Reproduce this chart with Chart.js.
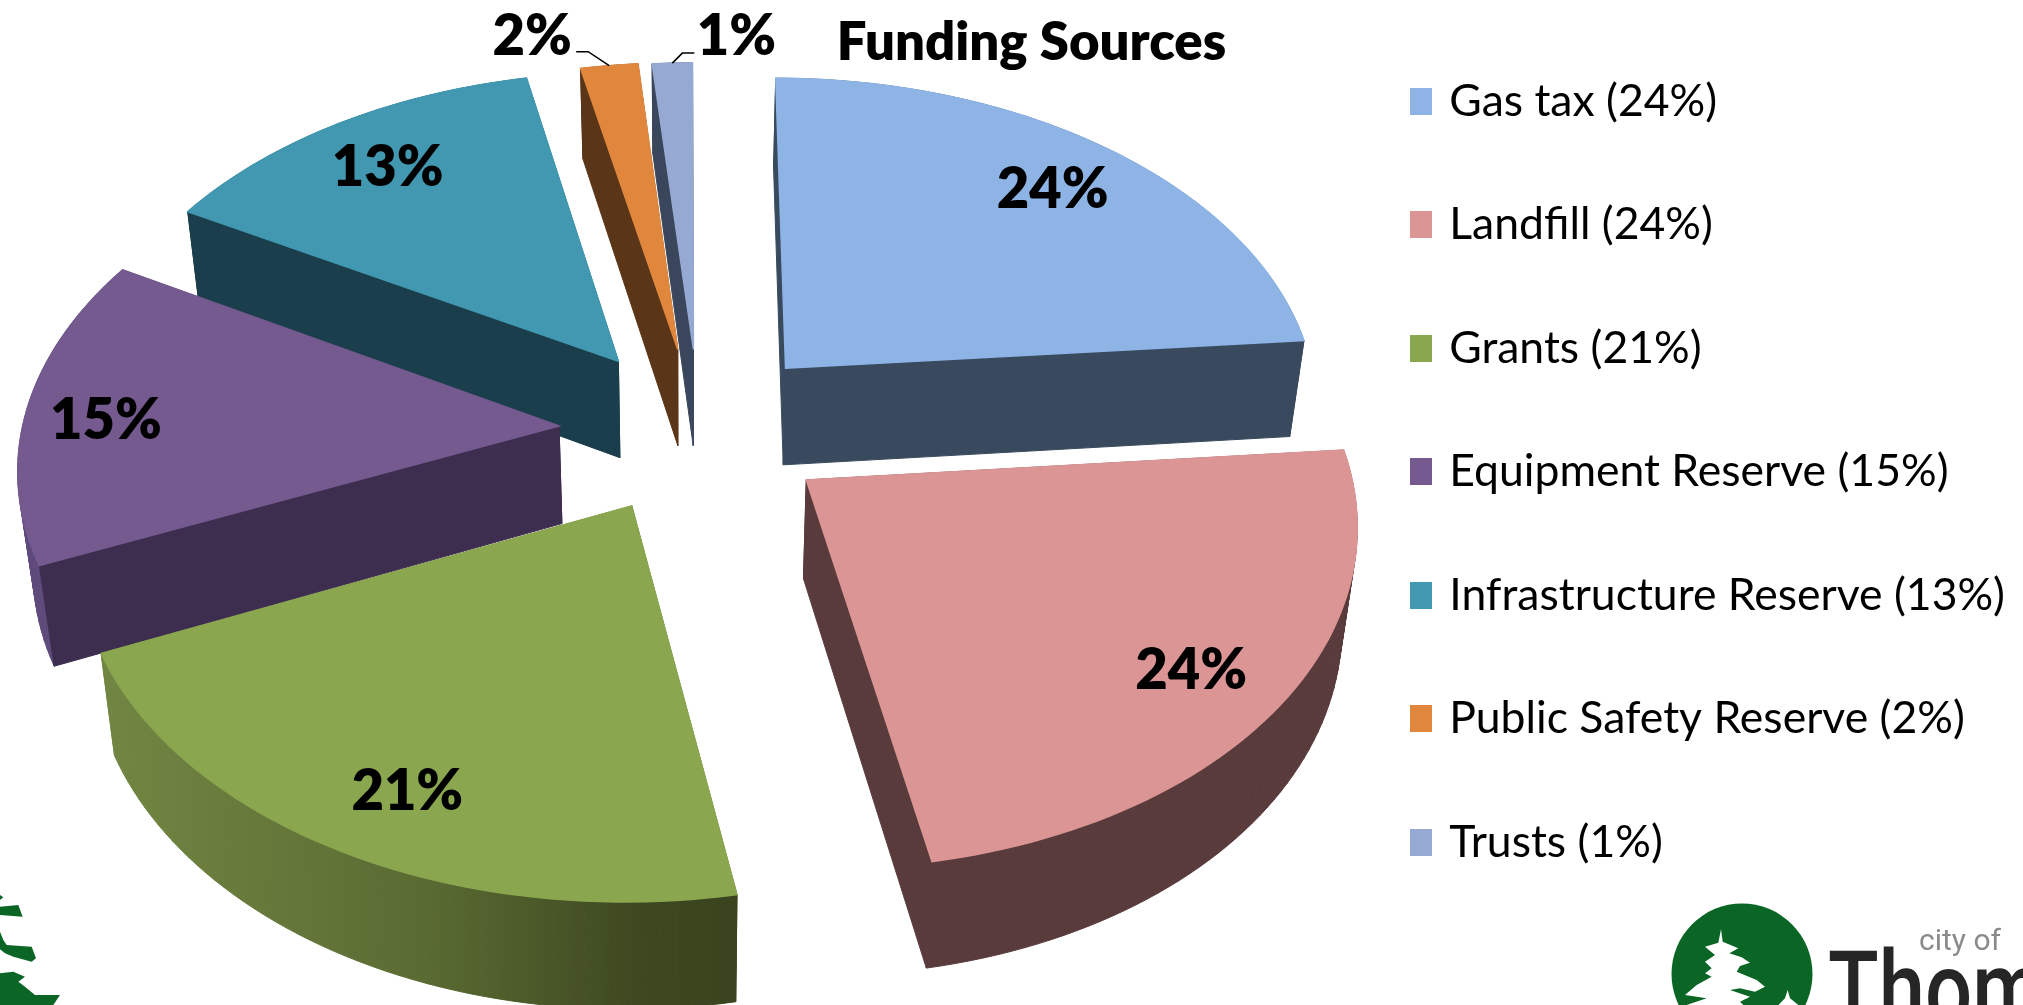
<!DOCTYPE html>
<html>
<head>
<meta charset="utf-8">
<style>html,body{margin:0;padding:0;background:#fff;overflow:hidden}canvas{display:block}</style>
<script src="https://cdn.jsdelivr.net/npm/chart.js@4"></script>
</head>
<body>
<canvas id="c" width="2023" height="1005"></canvas>
<script>
const categories = ['Gas tax','Landfill','Grants','Equipment Reserve','Infrastructure Reserve','Public Safety Reserve','Trusts'];
const legendLabels = ['Gas tax (24%)','Landfill (24%)','Grants (21%)','Equipment Reserve (15%)','Infrastructure Reserve (13%)','Public Safety Reserve (2%)','Trusts (1%)'];
const sliceLabels = ['24%','24%','21%','15%','13%','2%','1%'];
const values = [23.61,23.5,21.33,14.76,13.49,1.95,1.36];

const topColors = ['#8eb4e6','#db9594','#8aa64f','#745a8f','#4198b0','#e0873d','#95a9d2'];
const wallColors = ['#394a5e','#5a3b3c',null,'#3d2d4f','#1a3e4b','#5a3517','#3a465c'];
const outerWallColors = [null,null,null,'#5f4a7c',null,null,null];
const explodeU = [0.193,0.224,-0.095,-0.233,-0.125,-0.012,0.018];
const explodeV = [-0.221,0.114,0.189,-0.045,-0.243,-0.280,-0.280];
const labelRadius = [0.77,0.886,0.9,0.84,0.77,1,1];
const labelNudge = [[15,-6],[-32,-6],[36,-21],[-6,9],[-11,-7],[0,0],[0,0]];
const calloutStyle = {5:{elbow:[-21,-14],end:[-33,-14],text:[-77,-29]},6:{elbow:[10,-10],end:[22,-10],text:[64,-26]}};
const view = {cx:684,cy:441,rx:539,ry:337,persp:0.11,depth:98,depthGrow:0.02,shrink:0.977};
const font = '"Lato","Carlito","Open Sans",sans-serif';

function project(u,v){const f=1-view.persp*v;return [view.cx+view.rx*u/f,view.cy+view.ry*v/f];}
function lower(p){return [view.cx+view.shrink*(p[0]-view.cx),p[1]+view.depth+view.depthGrow*(p[1]-view.cy)];}

function outline(el,i){
  const pts=[project(explodeU[i],explodeV[i])];
  const n=Math.max(3,Math.ceil((el.endAngle-el.startAngle)/0.025));
  for(let k=0;k<=n;k++){
    const a=el.startAngle+(el.endAngle-el.startAngle)*k/n;
    pts.push(project(explodeU[i]+Math.cos(a),explodeV[i]+Math.sin(a)));
  }
  return pts;
}
function polygon(ctx,pts){ctx.beginPath();pts.forEach((p,j)=>j?ctx.lineTo(p[0],p[1]):ctx.moveTo(p[0],p[1]));ctx.closePath();}

function swatch(color){
  const c=document.createElement('canvas');c.width=22;c.height=27;
  const x=c.getContext('2d');x.fillStyle=color;x.fillRect(0,0,22,27);return c;
}

const pieProjection={
  id:'pieProjection',
  afterLayout(chart){
    const t=chart.titleBlock;t.left+=24;t.right+=24;
  },
  beforeDatasetsDraw(chart){
    const ctx=chart.ctx,meta=chart.getDatasetMeta(0);
    const order=meta.data.map((el,i)=>{
      const mid=(el.startAngle+el.endAngle)/2;
      return {el,i,d:explodeV[i]+0.5*Math.sin(mid)};
    }).sort((a,b)=>a.d-b.d);
    ctx.save();
    const wallGrad=ctx.createLinearGradient(105,0,740,0);
    wallGrad.addColorStop(0,'#728643');wallGrad.addColorStop(0.5,'#5a6b32');wallGrad.addColorStop(0.85,'#3d4720');wallGrad.addColorStop(1,'#39431d');
    order.forEach(({el,i})=>{
      const pts=outline(el,i);
      const col=wallColors[i]||wallGrad;
      const isRadial=j=>j===0||j===pts.length-1;
      const paint=(radial)=>pts.forEach((p,j)=>{
        if(isRadial(j)!==radial) return;
        const q=pts[(j+1)%pts.length];
        const c=radial?col:(outerWallColors[i]||col);
        ctx.fillStyle=c;ctx.strokeStyle=c;ctx.lineWidth=1;
        polygon(ctx,[p,q,lower(q),lower(p)]);ctx.fill();ctx.stroke();
      });
      paint(false);paint(true);
      polygon(ctx,pts);ctx.fillStyle=topColors[i];ctx.strokeStyle=topColors[i];ctx.lineWidth=1.5;ctx.fill();ctx.stroke();
    });
    ctx.fillStyle='#000';ctx.textAlign='center';ctx.textBaseline='middle';
    ctx.font='800 56px '+font;
    meta.data.forEach((el,i)=>{
      const mid=(el.startAngle+el.endAngle)/2;
      const c=calloutStyle[i];
      if(c){
        const a=project(explodeU[i]+Math.cos(mid),explodeV[i]+Math.sin(mid));
        ctx.strokeStyle='#000';ctx.lineWidth=1.5;
        ctx.beginPath();ctx.moveTo(a[0],a[1]);ctx.lineTo(a[0]+c.elbow[0],a[1]+c.elbow[1]);ctx.lineTo(a[0]+c.end[0],a[1]+c.end[1]);ctx.stroke();
        ctx.fillText(sliceLabels[i],a[0]+c.text[0],a[1]+c.text[1]);
      }else{
        const r=labelRadius[i];
        const p=project(explodeU[i]+r*Math.cos(mid),explodeV[i]+r*Math.sin(mid));
        ctx.fillText(sliceLabels[i],p[0]+labelNudge[i][0],p[1]+labelNudge[i][1]);
      }
    });
    ctx.restore();
    return false;
  },
  afterDraw(chart){
    const ctx=chart.ctx;
    ctx.save();
    const green='#0b6626';
    const mapL=a=>a.map(p=>[p[0]/3,860+p[1]/3]);
    ctx.fillStyle=green;
    [[[0,105],[10,112],[0,120]],
     [[0,140],[55,135],[68,170],[0,165]],
     [[0,215],[10,240],[20,255],[95,260],[108,295],[95,305],[40,290],[15,280],[0,268]],
     [[0,340],[40,335],[75,350],[55,365],[75,380],[105,405],[180,405],[160,435],[0,435]]
    ].forEach(s=>{polygon(ctx,mapL(s));ctx.fill();});
    ctx.beginPath();ctx.arc(1742,974,70.5,0,Math.PI*2);ctx.fill();
    const mapR=a=>a.map(p=>[1640+p[0]/3,880+p[1]/3]);
    ctx.fillStyle='#fff';
    [[[243,148],[248,185],[295,205],[268,220],[305,232],[330,248],[300,258],[290,275],[350,300],[375,320],[345,335],[300,325],[270,330],[330,350],[300,365],[310,375],[140,375],[200,355],[135,345],[170,315],[215,290],[195,280],[215,265],[195,245],[225,225],[195,200],[235,188]],
     [[443,330],[450,355],[475,375],[415,375],[435,355]]
    ].forEach(s=>{polygon(ctx,mapR(s));ctx.fill();});
    ctx.textAlign='left';ctx.textBaseline='alphabetic';
    ctx.fillStyle='#8a8a8a';ctx.font='30px "Roboto",'+font;
    ctx.fillText('city of',1919,950);
    ctx.fillStyle='#262626';ctx.font='500 104px "Roboto",'+font;
    ctx.save();ctx.translate(1828,1025);ctx.scale(0.8,1);ctx.fillText('Thom',0,0);ctx.restore();
    ctx.restore();
  }
};

new Chart(document.getElementById('c'),{
  type:'pie',
  data:{labels:categories,datasets:[{data:values,backgroundColor:topColors,borderWidth:0}]},
  plugins:[pieProjection],
  options:{
    responsive:false,animation:false,rotation:0,
    layout:{padding:{right:8}},
    plugins:{
      tooltip:{enabled:false},
      title:{display:true,text:'Funding Sources',color:'#000',padding:{top:11,bottom:0},font:{family:font,size:52.7,weight:'800'}},
      legend:{
        display:true,position:'right',align:'start',
        labels:{
          usePointStyle:true,boxWidth:13,pointStyleWidth:13,padding:79,color:'#000',
          font:{family:font,size:44.5},
          generateLabels:()=>legendLabels.map((t,i)=>({text:t,fillStyle:topColors[i],strokeStyle:topColors[i],lineWidth:0,pointStyle:swatch(topColors[i]),index:i,hidden:false}))
        }
      }
    }
  }
});
</script>
</body>
</html>
